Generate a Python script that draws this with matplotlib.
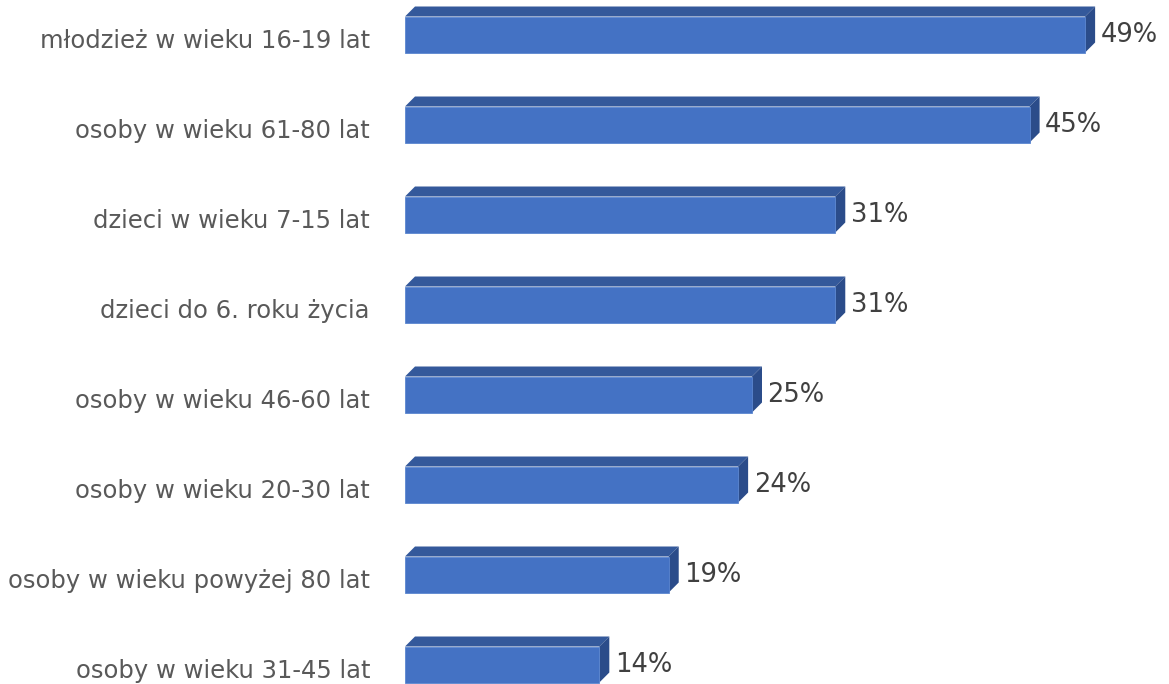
import matplotlib
matplotlib.use("Agg")
import matplotlib.pyplot as plt
from matplotlib.patches import Polygon

# ---------- data ----------
categories = [
    "młodzież w wieku 16-19 lat",
    "osoby w wieku 61-80 lat",
    "dzieci w wieku 7-15 lat",
    "dzieci do 6. roku życia",
    "osoby w wieku 46-60 lat",
    "osoby w wieku 20-30 lat",
    "osoby w wieku powyżej 80 lat",
    "osoby w wieku 31-45 lat",
]
values = [49, 45, 31, 31, 25, 24, 19, 14]

# ---------- style ----------
FRONT = "#4472C4"
TOP = "#34599B"
SIDE = "#2B4C8A"
LABEL_COL = "#595959"
VALUE_COL = "#404040"
FONT = "DejaVu Sans"

W, H, DPI = 1169, 684, 100
fig = plt.figure(figsize=(W / DPI, H / DPI), dpi=DPI)

# axes starts where the bars start (pixel 405), spans to the right edge
x0_px = 405
px_per_pct = 13.88
row_px = 90.0
first_center_px = 34.5
ax = fig.add_axes([x0_px / W, 0, (W - x0_px) / W, 1])
ax.set_xlim(0, (W - x0_px) / px_per_pct)
ax.set_ylim((H - first_center_px) / row_px, -first_center_px / row_px)
ax.axis("off")

bar_h = 36 / row_px
dx = 10 / px_per_pct   # depth, x
dy = 10 / row_px       # depth, y

bars = ax.barh(range(len(values)), values, height=bar_h, color=FRONT,
               edgecolor="#5B86D0", linewidth=0.6, zorder=2)

for i, v in enumerate(values):
    top = i - bar_h / 2
    bot = i + bar_h / 2
    ax.add_patch(Polygon([(0, top), (v, top), (v + dx, top - dy), (dx, top - dy)],
                         closed=True, facecolor=TOP, edgecolor="none", zorder=1))
    ax.add_patch(Polygon([(v, top), (v + dx, top - dy), (v + dx, bot - dy), (v, bot)],
                         closed=True, facecolor=SIDE, edgecolor="none", zorder=1))
    # value label
    ax.annotate(f"{v}%", xy=(v + dx, i), xytext=(4, 0), textcoords="offset points",
                ha="left", va="center", fontsize=18.5, color=VALUE_COL,
                family=FONT, annotation_clip=False)
    # category label
    ax.annotate(categories[i], xy=(0, i), xycoords=("axes fraction", "data"),
                xytext=(-25.2, -5), textcoords="offset points",
                ha="right", va="center", fontsize=17.5, color=LABEL_COL,
                family=FONT, annotation_clip=False)

fig.savefig("out.png", dpi=DPI)
